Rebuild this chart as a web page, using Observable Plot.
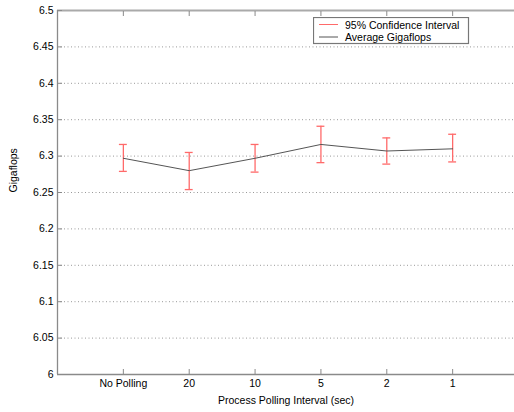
<!DOCTYPE html>
<html>
<head>
<meta charset="utf-8">
<script src="https://cdn.jsdelivr.net/npm/d3@7"></script>
<script src="https://cdn.jsdelivr.net/npm/@observablehq/plot@0.6"></script>
<style>
  html, body { margin: 0; padding: 0; background: #fff; }
  #wrap { position: relative; width: 514px; height: 412px; overflow: hidden; }
  #legend { position: absolute; left: 313px; top: 17px; }
  text { font-family: "Liberation Sans", Arial, sans-serif; }
</style>
</head>
<body>
<div id="wrap"><div id="chart"></div><svg id="legend" width="157" height="28"></svg></div>
<script>
const categories = ["No Polling", "20", "10", "5", "2", "1"];
const meanGflops = [6.297, 6.280, 6.297, 6.316, 6.307, 6.310];
const ciLow      = [6.279, 6.254, 6.278, 6.291, 6.289, 6.292];
const ciHigh     = [6.316, 6.305, 6.316, 6.341, 6.325, 6.330];
const yTicks = [6, 6.05, 6.1, 6.15, 6.2, 6.25, 6.3, 6.35, 6.4, 6.45, 6.5];
const gridVals = [6.05, 6.1, 6.15, 6.2, 6.25, 6.3, 6.35, 6.4, 6.45];

const data = categories.map((c, i) => ({
  pos: i + 1, label: c, mean: meanGflops[i], lo: ciLow[i], hi: ciHigh[i]
}));
const xPos = data.map(d => d.pos);
const cap = 0.06;
const red = "#ff6a6a";
const axisColor = "#8a8a8a";
const font = "Liberation Sans, Arial, sans-serif";
const fs = 10.5;

const chart = Plot.plot({
  width: 514,
  height: 412,
  marginTop: 10,
  marginBottom: 38,
  marginLeft: 57,
  marginRight: 0,
  style: { fontFamily: font, fontSize: fs + "px", color: "#000", background: "#fff" },
  x: { domain: [0, 7], range: [57, 518] },
  y: { domain: [6, 6.5] },
  marks: [
    Plot.ruleY(gridVals, { stroke: "#999", strokeDasharray: "1,2.5", strokeWidth: 1 }),
    // axis lines
    Plot.ruleY([6], { stroke: axisColor, strokeWidth: 1.3 }),
    Plot.ruleY([6.5], { stroke: "#aaa", strokeWidth: 2 }),
    Plot.ruleX([0], { stroke: axisColor, strokeWidth: 1.3 }),
    // tick labels
    Plot.axisY({ ticks: yTicks, tickSize: 0, tickPadding: 4, tickFormat: d => String(+d.toFixed(2)), label: null, fill: "#000" }),
    Plot.axisY({ ticks: yTicks, tickSize: -5, tickFormat: () => "", label: null, stroke: axisColor }),
    Plot.axisX({ ticks: xPos, tickSize: 0, tickPadding: 5, tickFormat: d => categories[d - 1], label: null, fill: "#000" }),
    Plot.axisX({ ticks: xPos, tickSize: -5, tickFormat: () => "", label: null, stroke: axisColor }),
    Plot.axisX({ anchor: "top", ticks: xPos, tickSize: -5, tickFormat: () => "", label: null, stroke: axisColor }),
    // axis titles
    Plot.text(["Process Polling Interval (sec)"], { frameAnchor: "bottom", dy: 29, text: d => d, fontSize: fs, fill: "#000" }),
    Plot.text(["Gigaflops"], { frameAnchor: "left", dx: -44, rotate: -90, text: d => d, fontSize: fs, fill: "#000" }),
    // error bars
    Plot.ruleX(data, { x: "pos", y1: "lo", y2: "hi", stroke: red, strokeWidth: 1.3 }),
    Plot.ruleY(data, { y: "lo", x1: d => d.pos - cap, x2: d => d.pos + cap, stroke: red, strokeWidth: 1.3 }),
    Plot.ruleY(data, { y: "hi", x1: d => d.pos - cap, x2: d => d.pos + cap, stroke: red, strokeWidth: 1.3 }),
    // mean line
    Plot.line(data, { x: "pos", y: "mean", stroke: "#555", strokeWidth: 1 })
  ]
});
document.getElementById("chart").appendChild(chart);

// legend
const lg = d3.select("#legend");
lg.append("rect").attr("x", 0.5).attr("y", 0.5).attr("width", 155).attr("height", 26)
  .attr("fill", "#fff").attr("stroke", "#777").attr("stroke-width", 1.2);
const items = [{ label: "95% Confidence Interval", color: red }, { label: "Average Gigaflops", color: "#555" }];
items.forEach((it, i) => {
  const y = 7.5 + i * 12.5;
  lg.append("line").attr("x1", 6).attr("x2", 25).attr("y1", y).attr("y2", y)
    .attr("stroke", it.color).attr("stroke-width", 1);
  lg.append("text").attr("x", 32).attr("y", y + 4).attr("font-size", fs)
    .attr("font-family", font).attr("fill", "#000").text(it.label);
});
</script>
</body>
</html>
